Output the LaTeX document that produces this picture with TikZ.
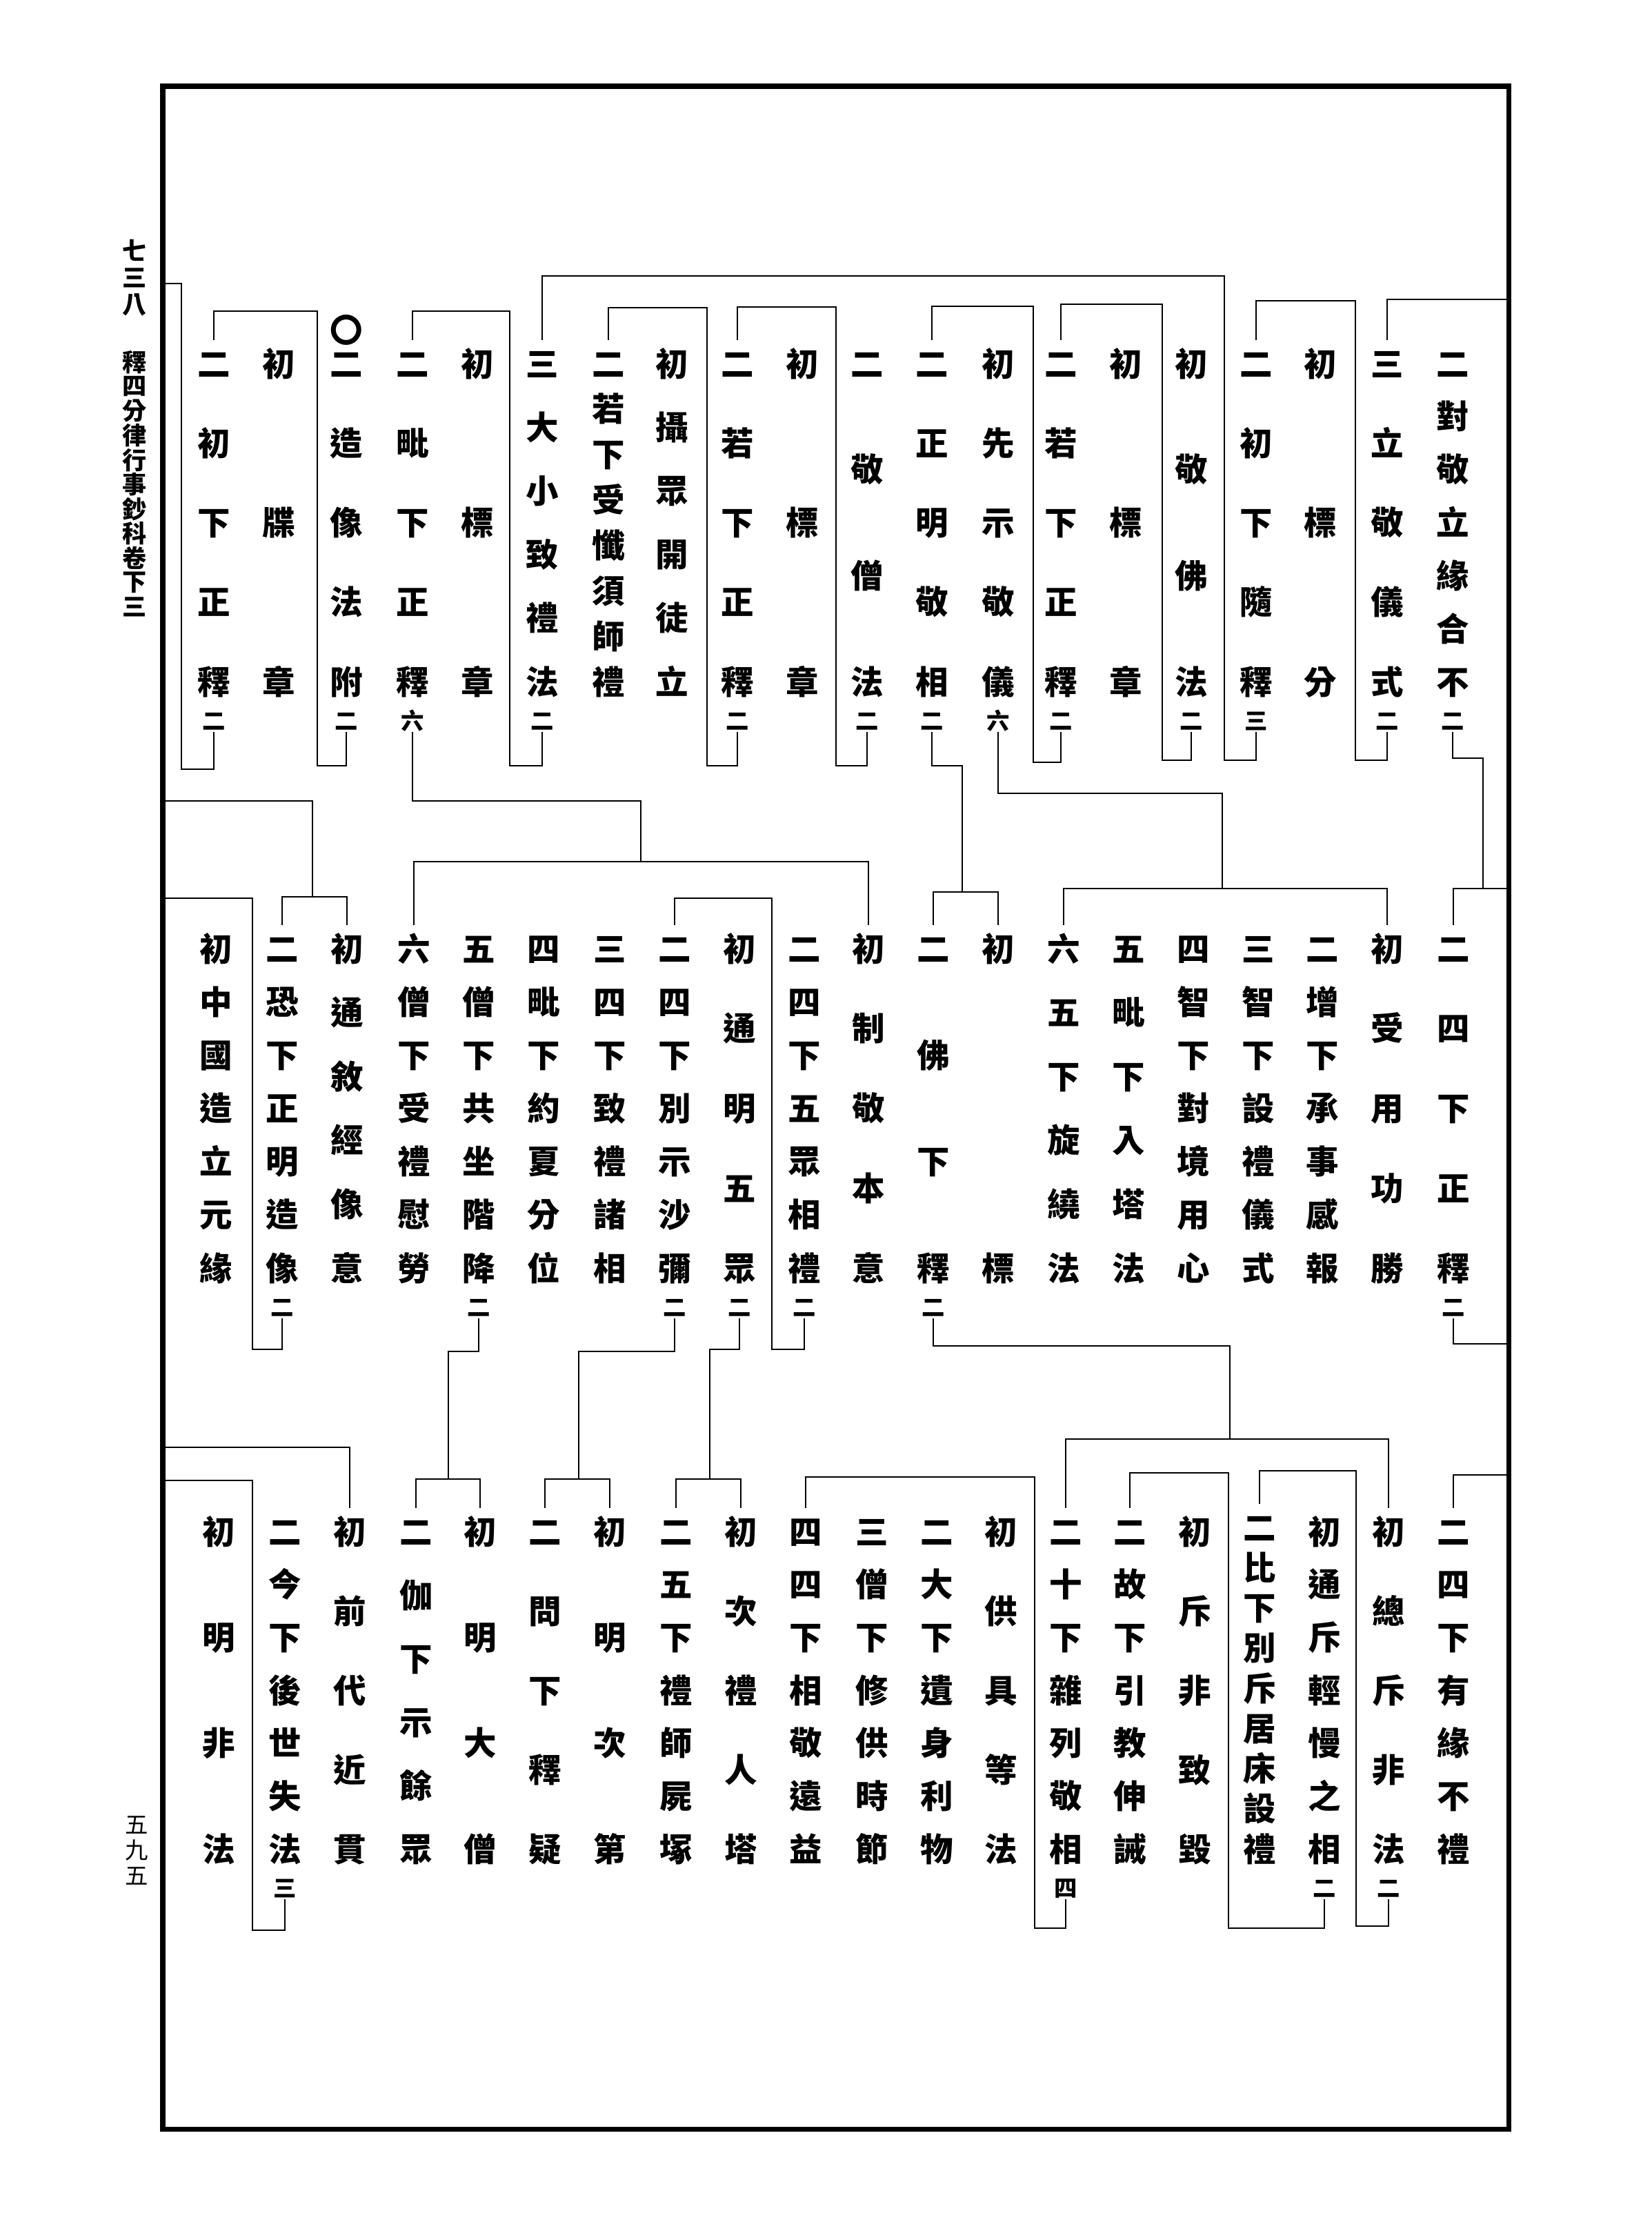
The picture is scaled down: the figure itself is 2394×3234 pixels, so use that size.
\documentclass[tikz,border=0pt]{standalone}
\usepackage{fontspec}
\newfontfamily\kfont{Noto Sans CJK TC}
\tikzset{
  kch/.style={inner sep=0pt,text height=11.2pt,text depth=0.95pt,
    font=\kfont\bfseries\fontsize{13.5pt}{13.5pt}\selectfont},
  knote/.style={inner sep=0pt,text height=7.9pt,text depth=0.7pt,
    font=\kfont\bfseries\fontsize{9.5pt}{9.5pt}\selectfont},
  khead/.style={inner sep=0pt,font=\kfont\bfseries\fontsize{10pt}{10pt}\selectfont},
  kpage/.style={inner sep=0pt,font=\kfont\fontsize{9.5pt}{9.5pt}\selectfont},
  kline/.style={line width=0.8pt},
  kend/.style={shorten >=0.12cm},
  kboth/.style={shorten <=0.12cm,shorten >=0.12cm},
  kframe/.style={line width=2pt}
}
\newcommand\kcol[7][kch]{%
  \foreach \kc [count=\n] in {#6} {\xdef\kcount{\n}}%
  \pgfmathsetmacro\kstep{(#5-#4)/max(\kcount-1,1)}%
  \foreach \kc [count=\i] in {#6}
    {\node[#1] (#2-\i) at (#3,{#4+(\i-1)*\kstep}) {\kc};}%
  \if\relax\detokenize{#7}\relax\else
    \node[knote] (#2-n) at (#3,{#5+57}) {#7};%
  \fi}

\begin{document}
\begin{tikzpicture}[x=0.01cm,y=-0.01cm]
  \useasboundingbox (0,0) rectangle (2394,3234);
  \draw[kframe] (236,125) rectangle (2187,3086);
  \coordinate (fL) at (236,0);
  \coordinate (fR) at (2187,0);

  \kcol[khead]{hd1}{195}{363}{442}{七,三,八}{}
  \kcol[khead]{hd2}{195}{525}{880}{釋,四,分,律,行,事,鈔,科,卷,下,三}{}
  \kcol[kpage]{pg}{198}{2645}{2719}{五,九,五}{}

  \kcol{a1}{2106}{527}{988}{二,對,敬,立,緣,合,不}{二}
  \kcol{a2}{2011}{527}{988}{三,立,敬,儀,式}{二}
  \kcol{a3}{1914}{527}{988}{初,標,分}{}
  \kcol{a4}{1821}{527}{988}{二,初,下,隨,釋}{三}
  \kcol{a5}{1727}{527}{988}{初,敬,佛,法}{二}
  \kcol{a6}{1632}{527}{988}{初,標,章}{}
  \kcol{a7}{1538}{527}{988}{二,若,下,正,釋}{二}
  \kcol{a8}{1447}{527}{988}{初,先,示,敬,儀}{六}
  \kcol{a9}{1351}{527}{988}{二,正,明,敬,相}{二}
  \kcol{a10}{1257}{527}{988}{二,敬,僧,法}{二}
  \kcol{a11}{1163}{527}{988}{初,標,章}{}
  \kcol{a12}{1069}{527}{988}{二,若,下,正,釋}{二}
  \kcol{a13}{974}{527}{988}{初,攝,眾,開,徒,立}{}
  \kcol{a14}{882}{527}{988}{二,若,下,受,懺,須,師,禮}{}
  \kcol{a15}{786}{527}{988}{三,大,小,致,禮,法}{二}
  \kcol{a16}{692}{527}{988}{初,標,章}{}
  \kcol{a17}{598}{527}{988}{二,毗,下,正,釋}{六}
  \kcol{a18}{502}{527}{988}{二,造,像,法,附}{二}
  \node[kch] (a18-0) at (502,478) {〇};
  \kcol{a19}{404}{527}{988}{初,牒,章}{}
  \kcol{a20}{310}{527}{988}{二,初,下,正,釋}{二}

  \kcol{b1}{2107}{1375}{1838}{二,四,下,正,釋}{二}
  \kcol{b2}{2011}{1375}{1838}{初,受,用,功,勝}{}
  \kcol{b3}{1917}{1375}{1838}{二,增,下,承,事,感,報}{}
  \kcol{b4}{1824}{1375}{1838}{三,智,下,設,禮,儀,式}{}
  \kcol{b5}{1730}{1375}{1838}{四,智,下,對,境,用,心}{}
  \kcol{b6}{1636}{1375}{1838}{五,毗,下,入,塔,法}{}
  \kcol{b7}{1542}{1375}{1838}{六,五,下,旋,繞,法}{}
  \kcol{b8}{1447}{1375}{1838}{初,標}{}
  \kcol{b9}{1353}{1375}{1838}{二,佛,下,釋}{二}
  \kcol{b10}{1259}{1375}{1838}{初,制,敬,本,意}{}
  \kcol{b11}{1166}{1375}{1838}{二,四,下,五,眾,相,禮}{二}
  \kcol{b12}{1072}{1375}{1838}{初,通,明,五,眾}{二}
  \kcol{b13}{978}{1375}{1838}{二,四,下,別,示,沙,彌}{二}
  \kcol{b14}{884}{1375}{1838}{三,四,下,致,禮,諸,相}{}
  \kcol{b15}{788}{1375}{1838}{四,毗,下,約,夏,分,位}{}
  \kcol{b16}{694}{1375}{1838}{五,僧,下,共,坐,階,降}{二}
  \kcol{b17}{600}{1375}{1838}{六,僧,下,受,禮,慰,勞}{}
  \kcol{b18}{503}{1375}{1838}{初,通,敘,經,像,意}{}
  \kcol{b19}{409}{1375}{1838}{二,恐,下,正,明,造,像}{二}
  \kcol{b20}{313}{1375}{1838}{初,中,國,造,立,元,緣}{}

  \kcol{c1}{2107}{2220}{2680}{二,四,下,有,緣,不,禮}{}
  \kcol{c2}{2013}{2220}{2680}{初,總,斥,非,法}{二}
  \kcol{c3}{1920}{2220}{2680}{初,通,斥,輕,慢,之,相}{二}
  \kcol{c4}{1826}{2214}{2680}{二,比,下,別,斥,居,床,設,禮}{}
  \kcol{c5}{1732}{2220}{2680}{初,斥,非,致,毀}{}
  \kcol{c6}{1638}{2220}{2680}{二,故,下,引,教,伸,誡}{}
  \kcol{c7}{1545}{2220}{2680}{二,十,下,雜,列,敬,相}{四}
  \kcol{c8}{1451}{2220}{2680}{初,供,具,等,法}{}
  \kcol{c9}{1358}{2220}{2680}{二,大,下,遺,身,利,物}{}
  \kcol{c10}{1264}{2220}{2680}{三,僧,下,修,供,時,節}{}
  \kcol{c11}{1168}{2220}{2680}{四,四,下,相,敬,遠,益}{}
  \kcol{c12}{1074}{2220}{2680}{初,次,禮,人,塔}{}
  \kcol{c13}{980}{2220}{2680}{二,五,下,禮,師,屍,塚}{}
  \kcol{c14}{884}{2220}{2680}{初,明,次,第}{}
  \kcol{c15}{790}{2220}{2680}{二,問,下,釋,疑}{}
  \kcol{c16}{696}{2220}{2680}{初,明,大,僧}{}
  \kcol{c17}{603}{2220}{2680}{二,伽,下,示,餘,眾}{}
  \kcol{c18}{507}{2220}{2680}{初,前,代,近,貫}{}
  \kcol{c19}{413}{2220}{2680}{二,今,下,後,世,失,法}{三}
  \kcol{c20}{317}{2220}{2680}{初,明,非,法}{}

  \draw[kline,kend] (a1-n.south) |- (2150,1099) -- (2150,1288) -| (b1-1.north);
  \draw[kline] (2150,1288) -- (fR |- 0,1288);
  \draw[kline,kend] (fR |- 0,434) -| (a2-1.north);
  \draw[kline,kend] (a2-n.south) |- (1965,1102) -- (1965,436) -| (a4-1.north);
  \draw[kline,kend] (a4-n.south) |- (1775,1102) -- (1775,400) -| (a15-1.north);
  \draw[kline,kend] (a5-n.south) |- (1685,1102) -- (1685,441) -| (a7-1.north);
  \draw[kline,kend] (a7-n.south) |- (1498,1105) -- (1498,444) -| (a9-1.north);
  \draw[kline] (a8-n.south) |- (1772,1150) -- (1772,1288);
  \draw[kline,kboth] (b7-1.north) |- (1772,1288) -| (b2-1.north);
  \draw[kline] (a9-n.south) |- (1395,1110) -- (1395,1293);
  \draw[kline,kboth] (b9-1.north) |- (1395,1293) -| (b8-1.north);
  \draw[kline,kend] (a10-n.south) |- (1212,1110) -- (1212,445) -| (a12-1.north);
  \draw[kline,kend] (a12-n.south) |- (1025,1110) -- (1025,446) -| (a14-1.north);
  \draw[kline,kend] (a15-n.south) |- (739,1110) -- (739,451) -| (a17-1.north);
  \draw[kline] (a17-n.south) |- (929,1161) -- (929,1249);
  \draw[kline,kboth] (b17-1.north) |- (929,1249) -| (b10-1.north);
  \draw[kline,kend] (a18-n.south) |- (460,1110) -- (460,451) -| (a20-1.north);
  \draw[kline] (a20-n.south) |- (263,1115) |- (fL |- 0,411);

  \draw[kline] (fL |- 0,1161) -| (453,1300);
  \draw[kline,kboth] (b19-1.north) |- (453,1300) -| (b18-1.north);
  \draw[kline] (b19-n.south) |- (366,1956) |- (fL |- 0,1302);
  \draw[kline] (b16-n.south) |- (650,1959) -- (650,2144);
  \draw[kline,kboth] (c17-1.north) |- (650,2144) -| (c16-1.north);
  \draw[kline] (b13-n.south) |- (839,1959) -- (839,2144);
  \draw[kline,kboth] (c15-1.north) |- (839,2144) -| (c14-1.north);
  \draw[kline] (b12-n.south) |- (1029,1956) -- (1029,2144);
  \draw[kline,kboth] (c13-1.north) |- (1029,2144) -| (c12-1.north);
  \draw[kline,kend] (b11-n.south) |- (1119,1956) -- (1119,1302) -| (b13-1.north);
  \draw[kline] (b9-n.south) |- (1783,1951) -- (1783,2086);
  \draw[kline,kboth] (c7-1.north) |- (1783,2086) -| (c2-1.north);
  \draw[kline] (b1-n.south) |- (fR |- 0,1948);

  \draw[kline,kend] (fL |- 0,2098) -| (c18-1.north);
  \draw[kline] (c19-n.south) |- (366,2798) |- (fL |- 0,2146);
  \draw[kline,kend] (c7-n.south) |- (1500,2795) -- (1500,2141) -| (c11-1.north);
  \draw[kline,kend] (c3-n.south) |- (1781,2795) -- (1781,2135) -| (c6-1.north);
  \draw[kline,kend] (c2-n.south) |- (1966,2792) -- (1966,2132) -| (c4-1.north);
  \draw[kline,kend] (fR |- 0,2138) -| (c1-1.north);
\end{tikzpicture}
\end{document}
